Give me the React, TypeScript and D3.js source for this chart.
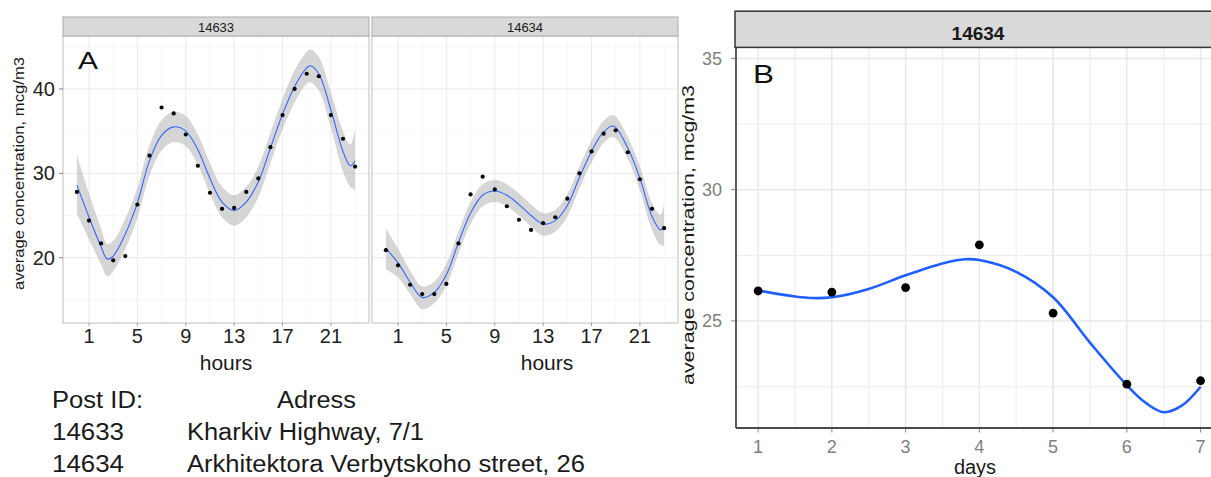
import React from 'react';
import * as d3 from 'd3';

// ---- Hourly averages per monitoring post (panel A) ----
const HOURS = [0, 1, 2, 3, 4, 5, 6, 7, 8, 9, 10, 11, 12, 13, 14, 15, 16, 17, 18, 19, 20, 21, 22, 23];
const HOUR_TICKS = [1, 5, 9, 13, 17, 21];
const HOUR_MINOR = [3, 7, 11, 15, 19, 23];
const CONC_TICKS_A = [20, 30, 40];
const CONC_MINOR_A = [15, 25, 35, 45];

const hourly14633 = [27.8, 24.4, 21.7, 19.7, 20.2, 26.3, 32.1, 37.8, 37.1, 34.6, 30.9, 27.7, 25.8, 25.9, 27.8, 29.4, 33.1, 36.9, 40.0, 41.8, 41.5, 36.9, 34.1, 30.8];
const hourly14634 = [20.9, 19.1, 16.8, 15.7, 15.7, 16.9, 21.7, 27.5, 29.6, 28.1, 26.1, 24.5, 23.3, 24.1, 24.8, 27.0, 30.0, 32.6, 34.7, 35.1, 32.5, 29.3, 25.8, 23.5];

// smoothed trend with its confidence band
const smoothHours14633 = [0, 1, 2, 2.5, 3, 4, 5, 6, 7, 8, 9, 10, 11, 12, 13, 14, 15, 16, 17, 18, 19, 19.3, 20, 21, 22, 22.6, 23];
const smooth14633 = [28.6, 24.8, 21.3, 19.85, 20.2, 22.8, 26.5, 31.5, 34.5, 35.5, 35.0, 32.8, 29.4, 26.6, 25.6, 26.6, 29.0, 33.0, 37.0, 40.3, 42.5, 42.75, 41.8, 37.5, 32.6, 30.9, 31.5];
const upper14633 = [32.2, 27.6, 23.5, 21.6, 22.0, 24.6, 28.3, 33.3, 36.3, 37.3, 36.8, 34.6, 31.2, 28.4, 27.4, 28.4, 30.8, 34.8, 38.8, 42.2, 44.4, 44.7, 43.8, 39.6, 35.0, 33.4, 35.1];
const lower14633 = [25.2, 22.2, 19.2, 17.8, 18.4, 21.0, 24.7, 29.7, 32.7, 33.7, 33.2, 31.0, 27.6, 24.8, 23.8, 24.8, 27.2, 31.2, 35.2, 38.4, 40.6, 40.8, 39.8, 35.4, 30.2, 28.4, 28.0];

const smoothHours14634 = [0, 1, 2, 3, 4, 5, 6, 7, 8, 9, 10, 11, 12, 13, 14, 15, 16, 17, 18, 18.8, 20, 21, 22, 22.7, 23];
const smooth14634 = [21.1, 19.4, 17.1, 15.3, 15.9, 18.0, 21.8, 25.3, 27.4, 27.9, 27.4, 26.3, 25.0, 24.0, 24.4, 26.2, 29.5, 32.6, 34.9, 35.6, 33.0, 29.4, 24.9, 23.3, 23.8];
const upper14634 = [23.5, 21.1, 18.5, 16.6, 17.2, 19.3, 23.1, 26.6, 28.7, 29.2, 28.7, 27.6, 26.3, 25.3, 25.7, 27.5, 30.8, 33.9, 36.2, 36.9, 34.3, 30.8, 26.5, 25.1, 26.3];
const lower14634 = [18.6, 17.7, 15.7, 13.9, 14.6, 16.7, 20.5, 24.0, 26.1, 26.6, 26.1, 25.0, 23.7, 22.6, 23.1, 24.9, 28.2, 31.3, 33.6, 34.3, 31.7, 28.0, 23.3, 21.5, 21.4];

// ---- Daily averages, post 14634 (panel B) ----
const DAYS = [1, 2, 3, 4, 5, 6, 7];
const DAY_MINOR = [1.5, 2.5, 3.5, 4.5, 5.5, 6.5];
const CONC_TICKS_B = [25, 30, 35];
const CONC_MINOR_B = [22.5, 27.5, 32.5];
const daily14634 = [26.14, 26.1, 26.27, 27.9, 25.3, 22.59, 22.72];
const dailySmoothDays = [1, 1.5, 1.75, 2, 2.5, 3, 3.5, 3.8, 4, 4.5, 5, 5.5, 6, 6.25, 6.5, 6.75, 7];
const dailySmooth = [26.16, 25.93, 25.87, 25.9, 26.22, 26.74, 27.19, 27.35, 27.32, 26.87, 25.9, 24.17, 22.55, 21.89, 21.52, 21.78, 22.49];

// ---- Post legend ----
const POST_IDS = ['14633', '14634'];
const POST_ADDRESSES = ['Kharkiv Highway, 7/1', 'Arkhitektora Verbytskoho street, 26'];
const ADDRESS_WIDTHS = [237, 398];

const FONT = "'Liberation Sans', Arial, Helvetica, sans-serif";
const smoothCurve = d3.curveCatmullRom.alpha(0.5);

// shared vertical scale for both hourly facets
const A_TOP = 36;
const A_BOTTOM = 323;
const yA = d3.scaleLinear().domain([12.27, 46.27]).range([A_BOTTOM, A_TOP]);

type FacetProps = {
  left: number;
  right: number;
  title: string;
  values: number[];
  fitX: number[];
  fit: number[];
  lo: number[];
  hi: number[];
  xTitleX: number;
  clipId: string;
};

function HourFacet({ left, right, title, values, fitX, fit, lo, hi, xTitleX, clipId }: FacetProps) {
  const x = d3.scaleLinear().domain([-1.15, 24.15]).range([left, right]);
  const band = d3
    .area<number>()
    .x((_, i) => x(fitX[i]))
    .y0((_, i) => yA(lo[i]))
    .y1((_, i) => yA(hi[i]))
    .curve(smoothCurve);
  const trend = d3
    .line<number>()
    .x((_, i) => x(fitX[i]))
    .y((d) => yA(d))
    .curve(smoothCurve);

  return (
    <g>
      <defs>
        <clipPath id={clipId}>
          <rect x={left} y={A_TOP} width={right - left} height={A_BOTTOM - A_TOP} />
        </clipPath>
      </defs>
      <rect x={left} y={A_TOP} width={right - left} height={A_BOTTOM - A_TOP} fill="#fff" />
      {CONC_MINOR_A.map((v) => (
        <line key={'ym' + v} x1={left} x2={right} y1={yA(v)} y2={yA(v)} stroke="#F3F3F3" strokeWidth={0.7} />
      ))}
      {HOUR_MINOR.map((h) => (
        <line key={'xm' + h} x1={x(h)} x2={x(h)} y1={A_TOP} y2={A_BOTTOM} stroke="#F3F3F3" strokeWidth={0.7} />
      ))}
      {CONC_TICKS_A.map((v) => (
        <line key={'y' + v} x1={left} x2={right} y1={yA(v)} y2={yA(v)} stroke="#EAEAEA" strokeWidth={1} />
      ))}
      {HOUR_TICKS.map((h) => (
        <line key={'x' + h} x1={x(h)} x2={x(h)} y1={A_TOP} y2={A_BOTTOM} stroke="#EAEAEA" strokeWidth={1} />
      ))}
      <g clipPath={`url(#${clipId})`}>
        <path d={band(fit) ?? ''} fill="#999999" fillOpacity={0.4} />
        <path d={trend(fit) ?? ''} fill="none" stroke="#3366FF" strokeWidth={1.1} />
        {values.map((v, i) => (
          <circle key={i} cx={x(HOURS[i])} cy={yA(v)} r={2.1} fill="#000" />
        ))}
      </g>
      <rect x={left} y={A_TOP} width={right - left} height={A_BOTTOM - A_TOP} fill="none" stroke="#BDBDBD" strokeWidth={1} />
      <rect x={left} y={17} width={right - left} height={A_TOP - 17} fill="#D9D9D9" stroke="#ABABAB" strokeWidth={1} />
      <text x={(left + right) / 2} y={31.5} textAnchor="middle" fontSize={13} fontFamily={FONT} fill="#1A1A1A">
        {title}
      </text>
      {HOUR_TICKS.map((h) => (
        <g key={'t' + h}>
          <line x1={x(h)} x2={x(h)} y1={A_BOTTOM} y2={A_BOTTOM + 3} stroke="#888" strokeWidth={0.8} />
          <text x={x(h)} y={343} textAnchor="middle" fontSize={20} fontFamily={FONT} fill="#222">
            {h}
          </text>
        </g>
      ))}
      <text x={xTitleX} y={369.5} textAnchor="middle" fontSize={21} fontFamily={FONT} fill="#1A1A1A">
        hours
      </text>
    </g>
  );
}

function DailyPanel() {
  const left = 736;
  const right = 1222.7;
  const top = 47.4;
  const bottom = 428;
  const x = d3.scaleLinear().domain([0.7, 7.3]).range([left, right]);
  const y = d3.scaleLinear().domain([20.92, 35.42]).range([bottom, top]);
  const trend = d3
    .line<number>()
    .x((_, i) => x(dailySmoothDays[i]))
    .y((d) => y(d))
    .curve(smoothCurve);

  return (
    <g>
      {CONC_MINOR_B.map((v) => (
        <line key={'ym' + v} x1={left} x2={right} y1={y(v)} y2={y(v)} stroke="#EFEFEF" strokeWidth={1.2} />
      ))}
      {DAY_MINOR.map((d) => (
        <line key={'xm' + d} x1={x(d)} x2={x(d)} y1={top} y2={bottom} stroke="#EFEFEF" strokeWidth={1.2} />
      ))}
      {CONC_TICKS_B.map((v) => (
        <line key={'y' + v} x1={left} x2={right} y1={y(v)} y2={y(v)} stroke="#E8E8E8" strokeWidth={1.5} />
      ))}
      {DAYS.map((d) => (
        <line key={'x' + d} x1={x(d)} x2={x(d)} y1={top} y2={bottom} stroke="#E8E8E8" strokeWidth={1.5} />
      ))}
      <path d={trend(dailySmooth) ?? ''} fill="none" stroke="#1F5EFF" strokeWidth={2.6} />
      {daily14634.map((v, i) => (
        <circle key={i} cx={x(DAYS[i])} cy={y(v)} r={4.4} fill="#000" />
      ))}
      <line x1={left} x2={left} y1={top} y2={bottom} stroke="#4A4A4A" strokeWidth={1.8} />
      <line x1={left} x2={right} y1={bottom} y2={bottom} stroke="#4A4A4A" strokeWidth={1.8} />
      <rect x={735} y={11.2} width={520} height={top - 11.2} fill="#D9D9D9" stroke="#333" strokeWidth={1.5} />
      <text x={978} y={40} textAnchor="middle" fontSize={19} fontWeight="bold" fontFamily={FONT} fill="#1A1A1A">
        14634
      </text>
      {CONC_TICKS_B.map((v) => (
        <g key={'ty' + v}>
          <line x1={left - 5} x2={left - 1} y1={y(v)} y2={y(v)} stroke="#888" strokeWidth={1} />
          <text x={722} y={y(v) + 6.3} textAnchor="end" fontSize={18} fontFamily={FONT} fill="#7F7F7F">
            {v}
          </text>
        </g>
      ))}
      {DAYS.map((d) => (
        <g key={'tx' + d}>
          <line x1={x(d)} x2={x(d)} y1={bottom + 1} y2={bottom + 4.5} stroke="#888" strokeWidth={1} />
          <text x={x(d)} y={453} textAnchor="middle" fontSize={18} fontFamily={FONT} fill="#7F7F7F">
            {d}
          </text>
        </g>
      ))}
      <text x={975} y={474} textAnchor="middle" fontSize={20} fontFamily={FONT} fill="#1A1A1A">
        days
      </text>
      <text x={753} y={83} fontSize={26} fontFamily={FONT} fill="#111" textLength={21} lengthAdjust="spacingAndGlyphs">
        B
      </text>
      <text
        transform="translate(694,235) rotate(-90)"
        textAnchor="middle"
        fontSize={17}
        fontFamily={FONT}
        fill="#1A1A1A"
        textLength={300}
        lengthAdjust="spacingAndGlyphs"
      >
        average concentration, mcg/m3
      </text>
    </g>
  );
}

export default function App() {
  return (
    <svg
      width={1211}
      height={477}
      viewBox="0 0 1211 477"
      style={{ position: 'absolute', left: 0, top: 0, background: '#fff' }}
    >
      <rect x={0} y={0} width={1211} height={477} fill="#fff" />

      <HourFacet
        left={63}
        right={369}
        title="14633"
        values={hourly14633}
        fitX={smoothHours14633}
        fit={smooth14633}
        lo={lower14633}
        hi={upper14633}
        xTitleX={226}
        clipId="clip-14633"
      />
      <HourFacet
        left={372}
        right={678}
        title="14634"
        values={hourly14634}
        fitX={smoothHours14634}
        fit={smooth14634}
        lo={lower14634}
        hi={upper14634}
        xTitleX={547}
        clipId="clip-14634"
      />

      {CONC_TICKS_A.map((v) => (
        <g key={'ay' + v}>
          <line x1={59} x2={63} y1={yA(v)} y2={yA(v)} stroke="#666" strokeWidth={0.8} />
          <text x={55} y={yA(v) + 7} textAnchor="end" fontSize={20} fontFamily={FONT} fill="#222">
            {v}
          </text>
        </g>
      ))}
      <text
        transform="translate(23.5,173.5) rotate(-90)"
        textAnchor="middle"
        fontSize={15.5}
        fontFamily={FONT}
        fill="#1A1A1A"
        textLength={233}
        lengthAdjust="spacingAndGlyphs"
      >
        average concentration, mcg/m3
      </text>
      <text x={78} y={69} fontSize={23} fontFamily={FONT} fill="#111" textLength={20} lengthAdjust="spacingAndGlyphs">
        A
      </text>

      <DailyPanel />

      {/* post legend */}
      <g fontFamily={FONT} fontSize={23} fill="#1A1A1A">
        <text x={52} y={408} textLength={91} lengthAdjust="spacingAndGlyphs">
          Post ID:
        </text>
        <text x={277} y={408} textLength={79} lengthAdjust="spacingAndGlyphs">
          Adress
        </text>
        {POST_IDS.map((id, i) => (
          <g key={id}>
            <text x={52} y={440 + i * 31.5} textLength={72} lengthAdjust="spacingAndGlyphs">
              {id}
            </text>
            <text x={187} y={440 + i * 31.5} textLength={ADDRESS_WIDTHS[i]} lengthAdjust="spacingAndGlyphs">
              {POST_ADDRESSES[i]}
            </text>
          </g>
        ))}
      </g>
    </svg>
  );
}
